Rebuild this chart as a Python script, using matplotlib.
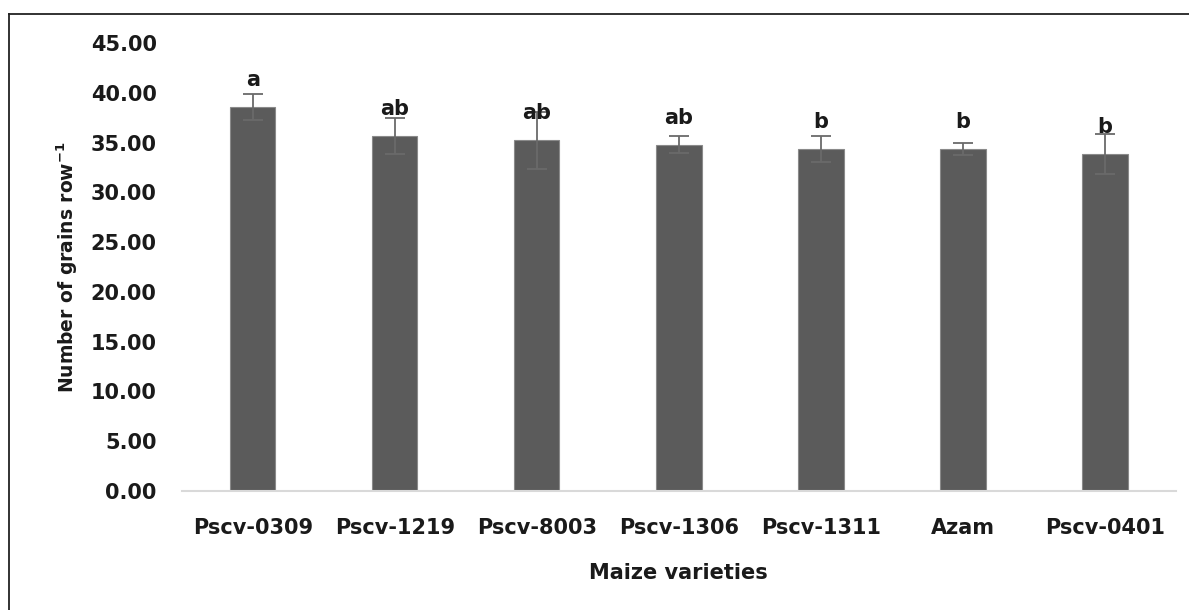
import numpy as np
import matplotlib.pyplot as plt
from matplotlib.lines import Line2D

# data
varieties = ['Pscv-0309', 'Pscv-1219', 'Pscv-8003', 'Pscv-1306', 'Pscv-1311', 'Azam', 'Pscv-0401']
grains = [38.6, 35.7, 35.25, 34.8, 34.4, 34.4, 33.9]
errors = [1.3, 1.8, 2.85, 0.85, 1.3, 0.6, 2.0]
letters = ['a', 'ab', 'ab', 'ab', 'b', 'b', 'b']

plt.rcParams['font.family'] = 'DejaVu Sans'
plt.rcParams['font.weight'] = 'bold'

fig = plt.figure(figsize=(11.89, 6.10), dpi=100)
ax = fig.add_axes([0.1528, 0.1956, 0.989 - 0.1528, 0.929 - 0.1956])

x = np.arange(len(varieties))
ax.bar(x, grains, width=0.32, color='#5b5b5b', edgecolor='#8a8a8a', linewidth=0.8, zorder=2)
ax.errorbar(x, grains, yerr=errors, fmt='none', ecolor='#6a6a6a', elinewidth=1.3,
            capsize=7, capthick=1.3, zorder=3)

for xi, val, lab in zip(x, grains, letters):
    ax.annotate(lab, (xi, val), xytext=(0, 27), textcoords='offset pixels',
                ha='center', va='center', fontsize=15, fontweight='bold', color='#1a1a1a', zorder=4)

ax.set_xlim(-0.5, len(varieties) - 0.5)
ax.set_ylim(0, 45)
ax.set_yticks(np.arange(0, 46, 5))
ax.set_yticklabels([f'{v:.2f}' for v in np.arange(0, 46, 5)])
ax.set_xticks(x)
ax.set_xticklabels(varieties)
ax.tick_params(axis='both', length=0, labelsize=15, colors='#1a1a1a')
ax.tick_params(axis='y', pad=18)
ax.tick_params(axis='x', pad=20)

for s in ['top', 'right', 'left']:
    ax.spines[s].set_visible(False)
ax.spines['bottom'].set_color('#d9d9d9')
ax.spines['bottom'].set_linewidth(1.5)

ax.set_xlabel('Maize varieties', fontsize=15, fontweight='bold', color='#1a1a1a', labelpad=18)
ax.set_ylabel(r'Number of grains row$^{\mathbf{-1}}$', fontsize=13.5, fontweight='bold',
              color='#1a1a1a', labelpad=8)

# outer frame (left and top edges visible)
fx = 9 / 1189
fy = 1 - 14 / 610
fig.add_artist(Line2D([fx, fx], [0, fy], transform=fig.transFigure, color='#222222', lw=1.3))
fig.add_artist(Line2D([fx, 1], [fy, fy], transform=fig.transFigure, color='#222222', lw=1.3))

fig.savefig('out.png', dpi=100)
